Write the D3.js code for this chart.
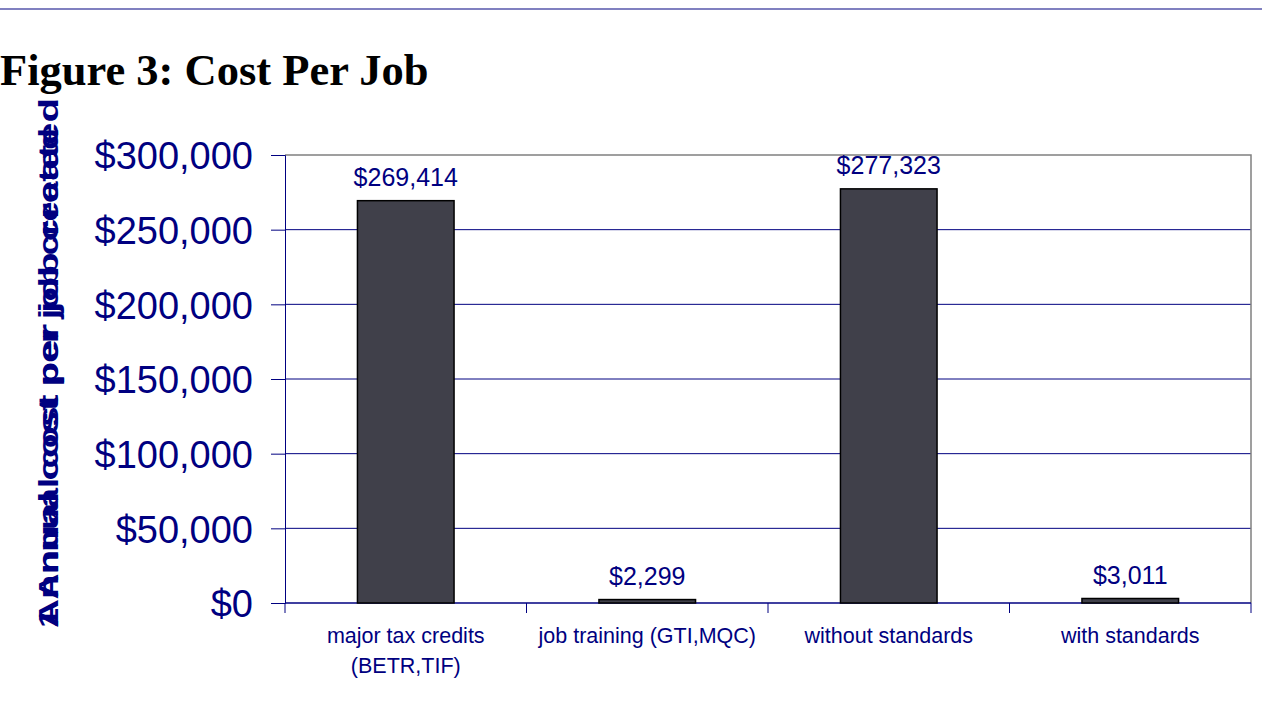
<!DOCTYPE html>
<html>
<head>
<meta charset="utf-8">
<script src="https://cdn.jsdelivr.net/npm/d3@7"></script>
<style>
  body { margin: 0; background: #fff; }
  svg { display: block; }
</style>
</head>
<body>
<svg></svg>
<script>
// chart values
var categories = [["major tax credits", "(BETR,TIF)"], ["job training (GTI,MQC)"], ["without standards"], ["with standards"]];
var costs = [269414, 2299, 277323, 3011];
var yTicks = [0, 50000, 100000, 150000, 200000, 250000, 300000];

draw();

function draw(){
  var width = 1262;
  var height = 702;
  var navy = "#000080";

  var svg = d3.select("svg")
              .attr("width", width)
              .attr("height", height);

  // thin rule at the top of the slide
  svg.append("rect")
     .attr("x", 0).attr("y", 8)
     .attr("width", width).attr("height", 2)
     .attr("fill", "#8080c0");

  svg.append("text")
     .attr("x", 0).attr("y", 85)
     .attr("font-family", "Liberation Serif, Times New Roman, serif")
     .attr("font-weight", "bold")
     .attr("font-size", 44.5)
     .attr("fill", "#000")
     .text("Figure 3: Cost Per Job");

  var left = 285, right = 1251, top = 155, bottom = 603;

  var x = d3.scaleBand()
            .domain(d3.range(categories.length))
            .range([left, right])
            .paddingInner(0.6)
            .paddingOuter(0.3);

  var y = d3.scaleLinear()
            .domain([0, 300000])
            .range([bottom, top]);

  // gridlines
  svg.append("g")
     .selectAll("line")
     .data(yTicks.filter(function(d){ return d > 0 && d < 300000; }))
     .enter()
     .append("line")
     .attr("x1", left).attr("x2", right)
     .attr("y1", function(d){ return y(d); })
     .attr("y2", function(d){ return y(d); })
     .attr("stroke", navy)
     .attr("stroke-width", 1);

  // plot frame top/right in grey
  svg.append("path")
     .attr("d", "M" + left + "," + top + "H" + right + "V" + bottom)
     .attr("fill", "none")
     .attr("stroke", "#808080")
     .attr("stroke-width", 1.5);

  var yAxis = d3.axisLeft(y)
                .tickValues(yTicks)
                .tickSize(14)
                .tickPadding(18)
                .tickFormat(function(d){ return "$" + d3.format(",")(d); });

  var gy = svg.append("g")
              .attr("transform", "translate(" + left + ",0)")
              .call(yAxis);
  gy.select(".domain").attr("stroke", navy);
  gy.selectAll(".tick line").attr("stroke", navy);
  gy.selectAll(".tick text")
    .attr("fill", navy)
    .attr("font-family", "Liberation Sans, Arial, sans-serif")
    .attr("font-size", 38)
    .attr("dy", "0.36em");

  // category axis: ticks at band boundaries
  var edges = d3.range(categories.length + 1).map(function(i){
    return left + i * x.step();
  });
  svg.append("line")
     .attr("x1", left).attr("x2", right)
     .attr("y1", bottom).attr("y2", bottom)
     .attr("stroke", navy).attr("stroke-width", 1.5);
  svg.append("g")
     .selectAll("line")
     .data(edges)
     .enter()
     .append("line")
     .attr("x1", function(d){ return d; })
     .attr("x2", function(d){ return d; })
     .attr("y1", bottom).attr("y2", bottom + 10)
     .attr("stroke", navy);

  var catText = svg.append("g")
     .selectAll("text")
     .data(categories)
     .enter()
     .append("text")
     .attr("x", function(d, i){ return left + (i + 0.5) * x.step(); })
     .attr("y", 643)
     .attr("text-anchor", "middle")
     .attr("font-family", "Liberation Sans, Arial, sans-serif")
     .attr("font-size", 21.5)
     .attr("fill", navy);
  catText.selectAll("tspan")
     .data(function(d){ return d; })
     .enter()
     .append("tspan")
     .attr("x", function(){ return d3.select(this.parentNode).attr("x"); })
     .attr("dy", function(d, i){ return i === 0 ? 0 : 30; })
     .text(function(d){ return d; });

  // bars
  svg.append("g")
     .selectAll("rect")
     .data(costs)
     .enter()
     .append("rect")
     .attr("x", function(d, i){ return x(i); })
     .attr("y", function(d){ return y(d); })
     .attr("width", x.bandwidth())
     .attr("height", function(d){ return bottom - y(d); })
     .attr("fill", "#40404a")
     .attr("stroke", "#000")
     .attr("stroke-width", 1.5);

  svg.append("g")
     .selectAll("text")
     .data(costs)
     .enter()
     .append("text")
     .attr("x", function(d, i){ return x(i) + x.bandwidth() / 2; })
     .attr("y", function(d){ return y(d) - 15; })
     .attr("text-anchor", "middle")
     .attr("font-family", "Liberation Sans, Arial, sans-serif")
     .attr("font-size", 25)
     .attr("fill", navy)
     .text(function(d){ return "$" + d3.format(",")(d); });

  // y title (drawn twice, slightly offset, as in the original render)
  var yTitle = [
    {text: "Annual cost per job created", len: 530},
    {text: "1 Annual cost per job created", len: 500}
  ];
  svg.append("g")
     .selectAll("text")
     .data(yTitle)
     .enter()
     .append("text")
     .attr("transform", "translate(58,628) rotate(-90)")
     .attr("x", 0).attr("y", 0)
     .attr("textLength", function(d){ return d.len; })
     .attr("lengthAdjust", "spacingAndGlyphs")
     .attr("font-family", "Liberation Sans, Arial, sans-serif")
     .attr("font-weight", "bold")
     .attr("font-size", 27)
     .attr("fill", navy)
     .text(function(d){ return d.text; });
}
</script>
</body>
</html>
